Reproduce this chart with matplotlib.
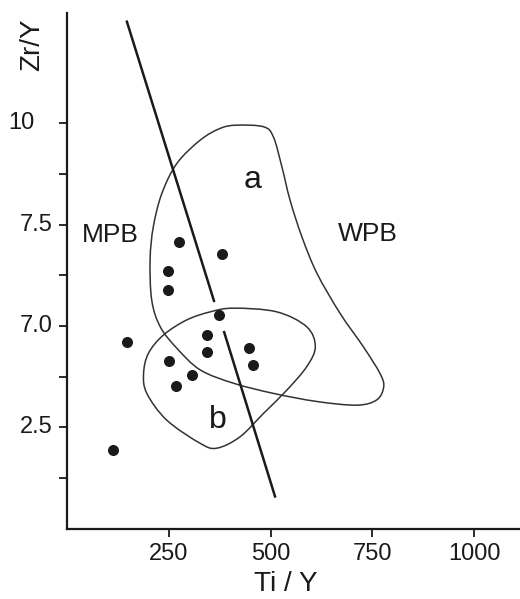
import numpy as np
import matplotlib.pyplot as plt
from matplotlib.path import Path
from matplotlib.patches import PathPatch

# Samples (Ti/Y, Zr/Y)
ti_y = [276, 380, 247, 248, 374, 147, 345, 345, 446, 457, 251, 307, 268, 112]
zr_y = [7.08, 6.77, 6.35, 5.90, 5.27, 4.61, 4.78, 4.37, 4.45, 4.04, 4.14, 3.79, 3.52, 1.95]

# Field a outline
a_x = [417, 483, 507, 528, 548, 577, 614, 671, 728, 769, 778, 761, 712, 614,
       507, 409, 327, 270, 229, 208, 204, 212, 233, 270, 327, 376]
a_y = [9.95, 9.91, 9.66, 8.92, 8.10, 7.20, 6.30, 5.31, 4.49, 3.83, 3.50, 3.18,
       3.05, 3.14, 3.34, 3.59, 3.92, 4.45, 4.98, 5.64, 6.63, 7.45, 8.27, 9.01,
       9.58, 9.87]

# Field b outline
b_x = [409, 515, 589, 610, 589, 540, 483, 425, 368, 327, 245, 196, 188, 200,
       237, 294, 352]
b_y = [5.44, 5.35, 4.98, 4.49, 4.00, 3.42, 2.85, 2.27, 1.99, 2.11, 2.68, 3.34,
       3.83, 4.33, 4.78, 5.15, 5.35]

# MPB / WPB dividing line (broken around the sample at ~374)
line1_x = [147, 361]
line1_y = [12.5, 5.62]
line2_x = [386, 511]
line2_y = [4.85, 0.80]

yticks = [2.5, 5.0, 7.5, 10]
ytick_labels = ['2.5', '7.0', '7.5', '10']
yminor = [1.25, 3.75, 6.25, 8.75]
xticks = [250, 500, 750, 1000]


def smooth_closed(xs, ys):
    # closed Catmull-Rom outline drawn as cubic bezier segments
    p = np.column_stack([xs, ys]).astype(float)
    n = len(p)
    verts = [p[0]]
    codes = [Path.MOVETO]
    for i in range(n):
        p0, p1, p2, p3 = p[i - 1], p[i], p[(i + 1) % n], p[(i + 2) % n]
        verts += [p1 + (p2 - p0) / 6, p2 - (p3 - p1) / 6, p2]
        codes += [Path.CURVE4] * 3
    return Path(verts, codes)


plt.rcParams['font.family'] = ['Liberation Sans', 'DejaVu Sans']
ink = '#1a1a1a'
fig = plt.figure(figsize=(5.2, 5.99), dpi=100)
ax = fig.add_axes([0.129, 0.117, 0.871, 0.861])

for xs, ys in [(a_x, a_y), (b_x, b_y)]:
    ax.add_patch(PathPatch(smooth_closed(xs, ys), fill=False,
                           edgecolor='#333333', lw=1.1))

ax.plot(line1_x, line1_y, color=ink, lw=1.8)
ax.plot(line2_x, line2_y, color=ink, lw=1.8)
ax.scatter(ti_y, zr_y, s=48, color=ink, zorder=3)

ax.text(106, 7.24, 'MPB', fontsize=19, ha='center', va='center', color=ink)
ax.text(739, 7.27, 'WPB', fontsize=19, ha='center', va='center', color=ink)
ax.text(455, 8.6, 'a', fontsize=23, ha='center', va='center', color=ink)
ax.text(370, 2.68, 'b', fontsize=23, ha='center', va='center', color=ink)

ax.set_xlim(0, 1113)
ax.set_ylim(0, 12.71)
ax.set_xticks(xticks)
ax.set_xticklabels([str(v) for v in xticks], fontsize=17, color=ink)
ax.set_yticks(yticks)
ax.set_yticklabels([])
ax.set_yticks(yminor, minor=True)
ax.tick_params(axis='both', which='both', direction='out', length=6,
               width=1.3, color=ink)
ax.tick_params(axis='x', pad=4)

# y tick labels drawn by hand: the "10" sits further left in the original
ytrans = ax.get_yaxis_transform()
for val, lbl in zip(yticks, ytick_labels):
    xpos = -0.071 if lbl == '10' else -0.031
    ax.text(xpos, val, lbl, transform=ytrans, fontsize=17, ha='right',
            va='center', color=ink)

for side in ['top', 'right']:
    ax.spines[side].set_visible(False)
for side in ['left', 'bottom']:
    ax.spines[side].set_linewidth(1.6)
    ax.spines[side].set_color(ink)

fig.text(0.55, 0.025, 'Ti / Y', fontsize=20, ha='center', va='center',
         color=ink)
fig.text(0.0615, 0.925, 'Zr/Y', fontsize=20, ha='center', va='center',
         rotation=90, color=ink)

fig.savefig('out.png', dpi=100)
